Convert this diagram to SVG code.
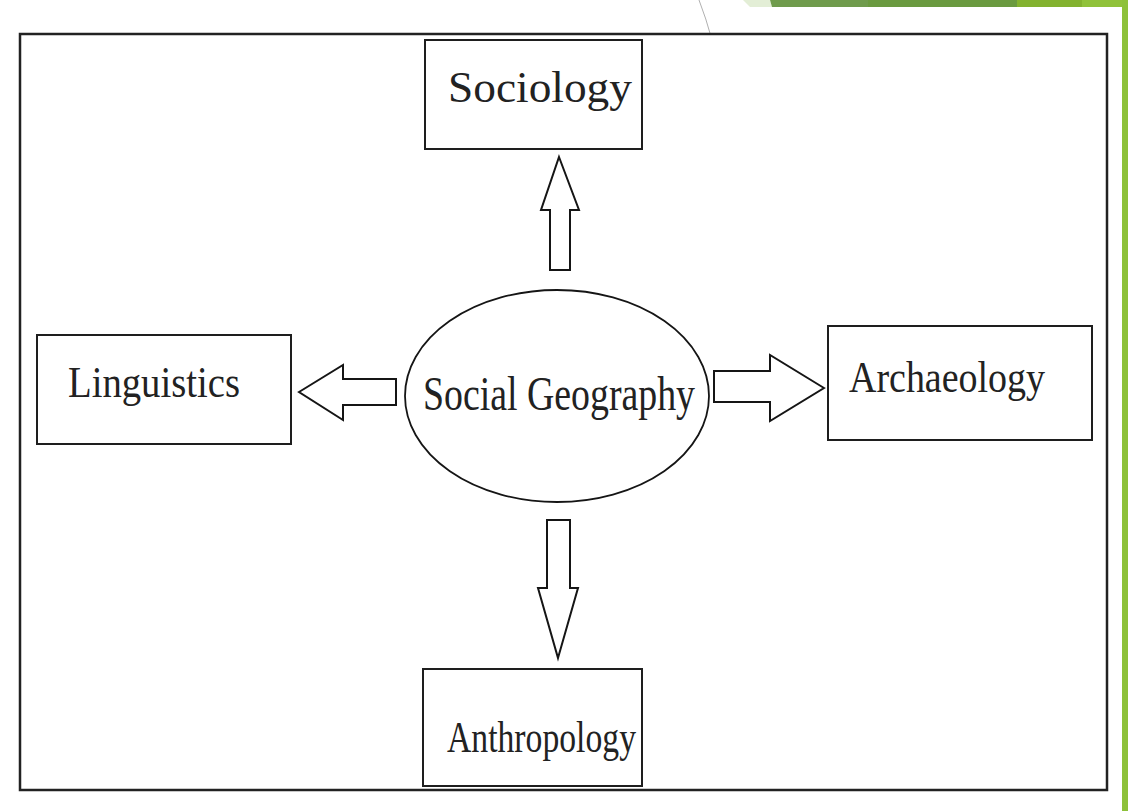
<svg xmlns="http://www.w3.org/2000/svg" width="1128" height="811" viewBox="0 0 1128 811">
  <style>
    .box { fill: #ffffff; stroke: #1e1e1e; stroke-width: 2; }
    .frame { fill: #ffffff; stroke: #222222; stroke-width: 2.5; }
    .arrow { fill: #ffffff; stroke: #151515; stroke-width: 2; stroke-linejoin: miter; }
    .label { font-family: "Liberation Serif", "Times New Roman", serif; font-size: 45px; fill: #222222; }
    .big { font-size: 48px; }
  </style>

  <!-- slide background and green accent bars -->
  <rect x="0" y="0" width="1128" height="811" fill="#ffffff"/>
  <g id="accent">
    <polygon points="743,0 770,0 772,7 750,7" fill="#e3eed6"/>
    <polygon points="770,0 870,0 868,7 772,7" fill="#6f9b4c"/>
    <rect x="868" y="0" width="150" height="7" fill="#6a9a3f"/>
    <rect x="1017" y="0" width="66" height="7" fill="#83b22f"/>
    <rect x="1082" y="0" width="46" height="7" fill="#90c23a"/>
    <rect x="1122" y="0" width="6" height="811" fill="#8dc13a"/>
    <path d="M699,0 Q706,18 712,40" fill="none" stroke="#b0b0b0" stroke-width="1"/>
  </g>

  <!-- outer frame -->
  <rect id="frame" class="frame" x="20" y="34" width="1087" height="756"/>

  <!-- connectors: block arrows from the centre ellipse -->
  <g id="connectors">
    <polygon class="arrow" points="559,157 579,210 570,210 570,270 550,270 550,210 541,210"/>
    <polygon class="arrow" points="558,658 578,588 570,588 570,520 547,520 547,588 538,588"/>
    <polygon class="arrow" points="299,392 343,365 343,379 396,379 396,405 343,405 343,420"/>
    <polygon class="arrow" points="824,388 770,355 770,371 714,371 714,402 770,402 770,421"/>
  </g>

  <g id="node-centre">
    <ellipse cx="557" cy="396" rx="152" ry="106" fill="#ffffff" stroke="#151515" stroke-width="1.8"/>
    <text class="label big" x="423" y="410" textLength="272" lengthAdjust="spacingAndGlyphs">Social Geography</text>
  </g>

  <g id="node-sociology">
    <rect class="box" x="425" y="40" width="217" height="109"/>
    <text class="label" x="448" y="102" textLength="184" lengthAdjust="spacingAndGlyphs">Sociology</text>
  </g>

  <g id="node-linguistics">
    <rect class="box" x="37" y="335" width="254" height="109"/>
    <text class="label" x="68" y="397" textLength="172" lengthAdjust="spacingAndGlyphs">Linguistics</text>
  </g>

  <g id="node-archaeology">
    <rect class="box" x="828" y="326" width="264" height="114"/>
    <text class="label" x="849" y="392" textLength="196" lengthAdjust="spacingAndGlyphs">Archaeology</text>
  </g>

  <g id="node-anthropology">
    <rect class="box" x="423" y="669" width="219" height="117"/>
    <text class="label" x="447" y="752" textLength="189" lengthAdjust="spacingAndGlyphs">Anthropology</text>
  </g>
</svg>
